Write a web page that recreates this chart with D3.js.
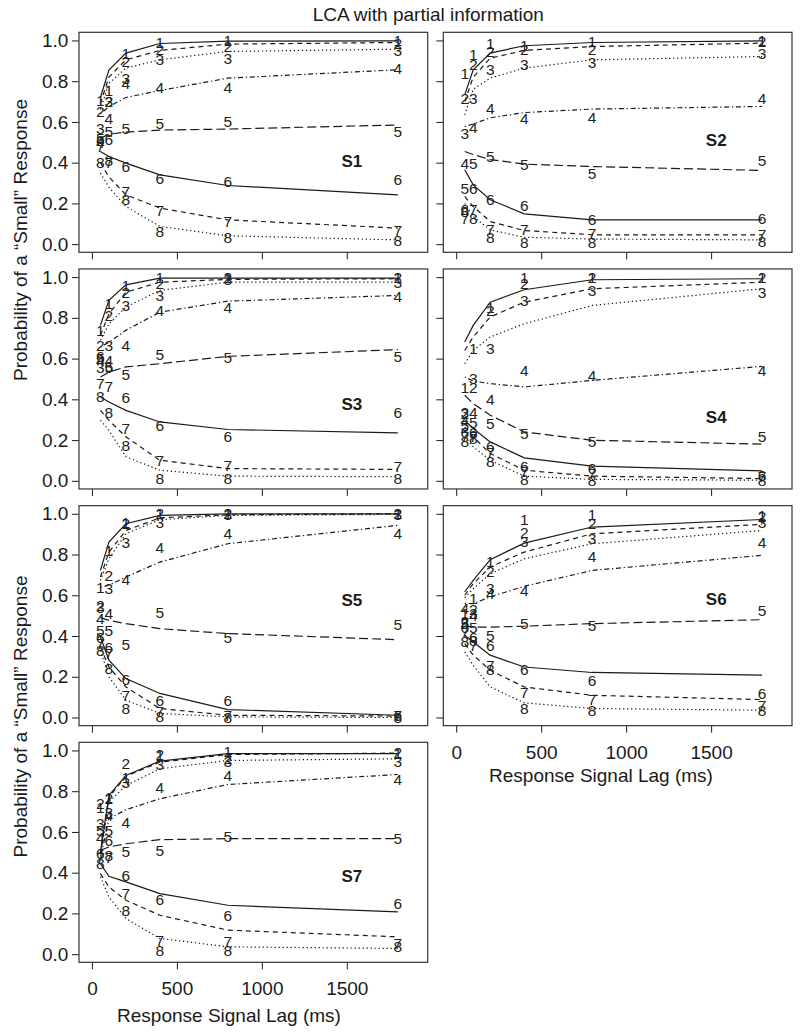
<!DOCTYPE html>
<html><head><meta charset="utf-8">
<script src="https://cdn.jsdelivr.net/npm/d3@7"></script>
<style>body{margin:0;background:#fff} svg text{font-family:"Liberation Sans",Arial,Helvetica,sans-serif}</style>
</head><body><svg id="c" width="800" height="1033"></svg>
<script>
// ---------- data ----------
const lags = [50, 100, 200, 400, 800, 1800];
const subjects = ["S1", "S2", "S3", "S4", "S5", "S6", "S7"];
const conditions = ["1", "2", "3", "4", "5", "6", "7", "8"];
const xTicks = [0, 500, 1000, 1500];
const yTicks = [0, 0.2, 0.4, 0.6, 0.8, 1.0];
const titleText = "LCA with partial information";
const xTitle = "Response Signal Lag (ms)";
const yTitle = "Probability of a \u201CSmall\u201D Response";

// model curves (rows = conditions 1..8, cols = lags)
const s1Model = [
  [0.72, 0.855, 0.938, 0.985, 0.997, 0.998],
  [0.69, 0.82, 0.905, 0.951, 0.982, 0.99],
  [0.66, 0.79, 0.864, 0.905, 0.946, 0.957],
  [0.64, 0.675, 0.72, 0.754, 0.815, 0.856],
  [0.52, 0.54, 0.55, 0.56, 0.565, 0.585],
  [0.455, 0.43, 0.398, 0.34, 0.288, 0.242],
  [0.40, 0.33, 0.242, 0.177, 0.119, 0.079],
  [0.349, 0.28, 0.185, 0.087, 0.041, 0.021]];
const s1Data = [
  [0.708, 0.757, 0.938, 0.99, 1.0, 1.0],
  [0.651, 0.70, 0.897, 0.954, 0.97, 0.987],
  [0.569, 0.70, 0.815, 0.905, 0.913, 0.951],
  [0.50, 0.619, 0.79, 0.771, 0.771, 0.864],
  [0.52, 0.553, 0.57, 0.594, 0.602, 0.553],
  [0.51, 0.512, 0.381, 0.324, 0.308, 0.316],
  [0.48, 0.40, 0.259, 0.165, 0.111, 0.067],
  [0.40, 0.41, 0.218, 0.062, 0.034, 0.018]];

const s2Model = [
  [0.733, 0.856, 0.938, 0.974, 0.99, 0.998],
  [0.70, 0.82, 0.913, 0.951, 0.97, 0.987],
  [0.635, 0.76, 0.815, 0.864, 0.905, 0.921],
  [0.578, 0.59, 0.62, 0.646, 0.663, 0.676],
  [0.455, 0.44, 0.415, 0.393, 0.381, 0.362],
  [0.365, 0.291, 0.218, 0.149, 0.119, 0.119],
  [0.234, 0.185, 0.111, 0.067, 0.046, 0.046],
  [0.20, 0.136, 0.07, 0.034, 0.025, 0.021]];
const s2Data = [
  [0.84, 0.93, 0.987, 0.975, 0.995, 1.0],
  [0.717, 0.88, 0.946, 0.954, 0.954, 0.995],
  [0.545, 0.717, 0.856, 0.88, 0.892, 0.938],
  [0.398, 0.574, 0.668, 0.619, 0.624, 0.717],
  [0.275, 0.398, 0.43, 0.393, 0.349, 0.411],
  [0.169, 0.275, 0.218, 0.188, 0.119, 0.128],
  [0.128, 0.169, 0.07, 0.074, 0.054, 0.046],
  [0.16, 0.128, 0.034, 0.008, 0.008, 0.013]];

const s3Model = [
  [0.763, 0.886, 0.962, 0.995, 0.995, 0.995],
  [0.714, 0.82, 0.926, 0.975, 0.989, 0.992],
  [0.69, 0.77, 0.853, 0.935, 0.975, 0.975],
  [0.657, 0.68, 0.739, 0.828, 0.882, 0.91],
  [0.51, 0.534, 0.559, 0.575, 0.611, 0.644],
  [0.412, 0.387, 0.346, 0.289, 0.252, 0.235],
  [0.346, 0.297, 0.216, 0.101, 0.06, 0.056],
  [0.297, 0.248, 0.118, 0.052, 0.023, 0.02]];
const s3Data = [
  [0.739, 0.869, 0.959, 1.0, 1.0, 1.0],
  [0.665, 0.812, 0.926, 0.971, 0.997, 0.997],
  [0.559, 0.665, 0.861, 0.91, 0.987, 0.975],
  [0.59, 0.59, 0.665, 0.837, 0.85, 0.905],
  [0.60, 0.559, 0.523, 0.621, 0.608, 0.611],
  [0.61, 0.56, 0.408, 0.273, 0.216, 0.338],
  [0.477, 0.461, 0.257, 0.098, 0.077, 0.069],
  [0.412, 0.338, 0.175, 0.011, 0.011, 0.011]];

const s4Model = [
  [0.681, 0.763, 0.877, 0.938, 0.987, 0.992],
  [0.64, 0.706, 0.804, 0.877, 0.943, 0.975],
  [0.575, 0.64, 0.706, 0.771, 0.861, 0.943],
  [0.51, 0.49, 0.477, 0.461, 0.493, 0.562],
  [0.42, 0.379, 0.322, 0.24, 0.199, 0.18],
  [0.297, 0.257, 0.191, 0.113, 0.072, 0.049],
  [0.265, 0.216, 0.134, 0.052, 0.023, 0.011],
  [0.216, 0.167, 0.101, 0.023, 0.007, 0.003]];
const s4Data = [
  [0.46, 0.649, 0.853, 1.0, 1.0, 1.0],
  [0.33, 0.46, 0.837, 0.967, 1.0, 1.0],
  [0.338, 0.502, 0.652, 0.886, 0.935, 0.926],
  [0.297, 0.338, 0.399, 0.542, 0.518, 0.542],
  [0.273, 0.289, 0.281, 0.235, 0.191, 0.216],
  [0.24, 0.24, 0.17, 0.069, 0.06, 0.028],
  [0.216, 0.216, 0.137, 0.044, 0.036, 0.02],
  [0.191, 0.208, 0.093, 0.007, 0.003, 0.003]];

const s5Model = [
  [0.722, 0.861, 0.951, 0.992, 1.0, 1.0],
  [0.69, 0.812, 0.918, 0.98, 0.995, 1.0],
  [0.673, 0.779, 0.902, 0.971, 0.992, 0.997],
  [0.64, 0.649, 0.69, 0.763, 0.853, 0.943],
  [0.49, 0.477, 0.461, 0.436, 0.412, 0.382],
  [0.395, 0.281, 0.191, 0.118, 0.039, 0.011],
  [0.346, 0.248, 0.15, 0.044, 0.011, 0.007],
  [0.33, 0.199, 0.085, 0.02, 0.003, 0.0]];
const s5Data = [
  [0.64, 0.82, 0.959, 1.0, 1.0, 1.0],
  [0.551, 0.698, 0.951, 1.0, 1.0, 1.0],
  [0.542, 0.632, 0.861, 0.959, 0.997, 0.997],
  [0.485, 0.51, 0.676, 0.837, 0.905, 0.905],
  [0.428, 0.428, 0.359, 0.518, 0.392, 0.458],
  [0.395, 0.346, 0.186, 0.085, 0.085, 0.011],
  [0.363, 0.314, 0.109, 0.028, 0.011, 0.011],
  [0.33, 0.24, 0.044, 0.003, 0.0, 0.0]];

const s6Model = [
  [0.616, 0.673, 0.775, 0.856, 0.935, 0.972],
  [0.60, 0.657, 0.739, 0.812, 0.902, 0.948],
  [0.588, 0.632, 0.706, 0.779, 0.853, 0.918],
  [0.56, 0.559, 0.592, 0.644, 0.722, 0.796],
  [0.45, 0.444, 0.444, 0.448, 0.461, 0.48],
  [0.404, 0.371, 0.306, 0.248, 0.221, 0.208],
  [0.363, 0.306, 0.232, 0.15, 0.109, 0.088],
  [0.322, 0.257, 0.15, 0.072, 0.044, 0.036]];
const s6Data = [
  [0.51, 0.583, 0.768, 0.971, 0.995, 0.992],
  [0.47, 0.53, 0.719, 0.91, 0.951, 0.987],
  [0.46, 0.51, 0.632, 0.864, 0.877, 0.959],
  [0.534, 0.50, 0.608, 0.624, 0.791, 0.861],
  [0.46, 0.44, 0.404, 0.464, 0.453, 0.526],
  [0.44, 0.395, 0.355, 0.235, 0.183, 0.118],
  [0.42, 0.355, 0.257, 0.121, 0.088, 0.06],
  [0.371, 0.38, 0.235, 0.044, 0.036, 0.033]];

const s7Model = [
  [0.50, 0.779, 0.877, 0.948, 0.984, 0.984],
  [0.49, 0.771, 0.873, 0.943, 0.98, 0.987],
  [0.48, 0.747, 0.828, 0.91, 0.951, 0.959],
  [0.47, 0.665, 0.709, 0.763, 0.833, 0.882],
  [0.51, 0.526, 0.542, 0.562, 0.567, 0.567],
  [0.444, 0.382, 0.355, 0.297, 0.24, 0.208],
  [0.395, 0.33, 0.265, 0.191, 0.118, 0.085],
  [0.38, 0.281, 0.175, 0.077, 0.036, 0.028]];
const s7Data = [
  [0.72, 0.771, 0.869, 0.975, 0.997, 0.987],
  [0.739, 0.763, 0.935, 0.98, 0.959, 0.992],
  [0.64, 0.698, 0.845, 0.931, 0.948, 0.948],
  [0.575, 0.681, 0.649, 0.82, 0.877, 0.856],
  [0.608, 0.608, 0.502, 0.51, 0.578, 0.567],
  [0.493, 0.559, 0.387, 0.268, 0.191, 0.248],
  [0.477, 0.477, 0.297, 0.069, 0.065, 0.052],
  [0.444, 0.485, 0.216, 0.02, 0.02, 0.036]];

const models = [s1Model, s2Model, s3Model, s4Model, s5Model, s6Model, s7Model];
const observed = [s1Data, s2Data, s3Data, s4Data, s5Data, s6Data, s7Data];

// ---------- layout / style ----------
const svg = d3.select("#c");
const FONT = 19, DIGIT = 15.5;
const boxW = 348.7, boxH = 220, rowStep = 236.67, top0 = 32.3;
const colLeft = [79, 443.3];
const labelAt = [[1530, 0.41], [1530, 0.512], [1530, 0.377], [1530, 0.314], [1530, 0.579], [1530, 0.584], [1530, 0.384]];
const dashes = ["", "5,4", "1.3,2.7", "1.3,2.7,5,2.7", "9,4", "", "5,4", "1.3,2.7"];
const ink = "#1a1a1a";

svg.append("text").attr("x", 428.3).attr("y", 20.7).attr("text-anchor", "middle")
  .attr("font-size", FONT).attr("fill", ink).text(titleText);

subjects.forEach((s, i) => {
  const col = i % 2, row = Math.floor(i / 2);
  const left = colLeft[col], top = top0 + row * rowStep;
  const x = d3.scaleLinear().domain([-76, 1976]).range([left, left + boxW]);
  const y = d3.scaleLinear().domain([-0.04, 1.04]).range([top + boxH, top]);
  const g = svg.append("g");

  // axes
  const showX = (i === 5 || i === 6);
  const xa = g.append("g").attr("transform", `translate(0,${top + boxH})`)
    .call(d3.axisBottom(x).tickValues(xTicks).tickSize(7).tickPadding(12.5)
      .tickFormat(showX ? d3.format("d") : () => ""));
  const ya = g.append("g").attr("transform", `translate(${left},0)`)
    .call(d3.axisLeft(y).tickValues(yTicks).tickSize(7).tickPadding(3.7)
      .tickFormat(col === 0 ? d3.format(".1f") : () => ""));
  [xa, ya].forEach(a => {
    a.select(".domain").remove();
    a.selectAll("line").attr("stroke", ink).attr("stroke-width", 1);
    a.selectAll("text").attr("font-size", FONT).attr("fill", ink)
      .attr("font-family", '"Liberation Sans",Arial,sans-serif');
  });

  // box
  g.append("rect").attr("x", left).attr("y", top).attr("width", boxW).attr("height", boxH)
    .attr("fill", "none").attr("stroke", "#333").attr("stroke-width", 1.2);

  // model lines
  const line = d3.line().x((d, k) => x(lags[k])).y(d => y(d));
  g.selectAll("path.m").data(models[i]).join("path").attr("class", "m")
    .attr("d", d => line(d)).attr("fill", "none").attr("stroke", ink)
    .attr("stroke-width", 1.2).attr("stroke-dasharray", (d, c) => dashes[c]);

  // observed digits
  observed[i].forEach((vals, c) => {
    g.selectAll(null).data(vals).join("text")
      .attr("x", (d, k) => x(lags[k])).attr("y", d => y(d)).attr("dy", "0.36em")
      .attr("text-anchor", "middle").attr("font-size", DIGIT).attr("fill", "#222")
      .text(conditions[c]);
  });

  // panel label
  g.append("text").attr("x", x(labelAt[i][0])).attr("y", y(labelAt[i][1])).attr("dy", "0.36em")
    .attr("text-anchor", "middle").attr("font-size", 17).attr("font-weight", "bold")
    .attr("fill", ink).text(s);
});

// axis titles
svg.append("text").attr("x", 601).attr("y", 782).attr("text-anchor", "middle")
  .attr("font-size", FONT).attr("fill", ink).text(xTitle);
svg.append("text").attr("x", 229).attr("y", 1022).attr("text-anchor", "middle")
  .attr("font-size", FONT).attr("fill", ink).text(xTitle);
[240, 716.5].forEach(cy => {
  svg.append("text").attr("transform", `translate(26.5,${cy}) rotate(-90)`)
    .attr("text-anchor", "middle").attr("font-size", FONT).attr("fill", ink).text(yTitle);
});
</script></body></html>
